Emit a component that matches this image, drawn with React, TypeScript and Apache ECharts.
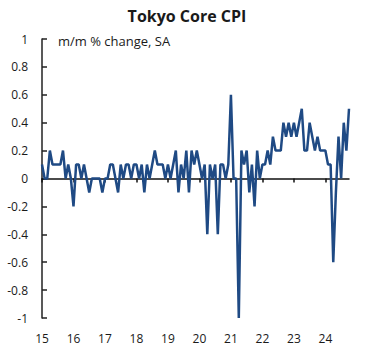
import React, { useEffect, useRef } from "react";
import * as echarts from "echarts";

const years = [2015, 2016, 2017, 2018, 2019, 2020, 2021, 2022, 2023, 2024];
const lastMonth2024 = 10;
const months = years.flatMap((y) =>
  Array.from({ length: y === 2024 ? lastMonth2024 : 12 }, (_, m) => `${y}-${String(m + 1).padStart(2, "0")}`)
);

const cpi2015 = [0.1, 0, 0, 0.2, 0.1, 0.1, 0.1, 0.1, 0.2, 0, 0.1, 0];
const cpi2016 = [-0.2, 0.1, 0.1, 0, 0.1, 0, -0.1, 0, 0, 0, 0, -0.1];
const cpi2017 = [0, 0, 0.1, 0.1, 0, -0.1, 0.1, 0, 0.1, 0.1, 0, 0.1];
const cpi2018 = [0.1, 0, 0.1, -0.1, 0.1, 0, 0.1, 0.2, 0.1, 0.1, 0.1, 0];
const cpi2019 = [0.1, 0, 0.1, 0.2, -0.1, 0.1, 0, 0.2, -0.1, 0.2, 0.1, 0.2];
const cpi2020 = [0.1, 0, 0.1, -0.4, 0.1, 0, 0.1, -0.4, 0.1, 0.1, 0, 0.1];
const cpi2021 = [0.6, 0, 0, -1.0, 0.2, 0.1, 0.2, -0.1, 0.1, -0.2, 0.2, 0];
const cpi2022 = [0.1, 0.1, 0.2, 0.1, 0.3, 0.2, 0.2, 0.2, 0.4, 0.3, 0.4, 0.3];
const cpi2023 = [0.4, 0.3, 0.4, 0.5, 0.2, 0.2, 0.4, 0.3, 0.2, 0.3, 0.2, 0.2];
const cpi2024 = [0.2, 0.1, 0.1, -0.6, -0.1, 0.3, 0, 0.4, 0.2, 0.5];

const cpi = [
  ...cpi2015, ...cpi2016, ...cpi2017, ...cpi2018, ...cpi2019,
  ...cpi2020, ...cpi2021, ...cpi2022, ...cpi2023, ...cpi2024,
];

const FONT = "'Open Sans', sans-serif";
const TEXT = "#1a1a1a";

export default function App() {
  const ref = useRef<HTMLDivElement>(null);
  useEffect(() => {
    document.body.style.margin = "0";
    const chart = echarts.init(ref.current!, null, { renderer: "svg" });
    const isJan = (i: number) => months[i] && months[i].endsWith("-01");
    chart.setOption({
      animation: false,
      textStyle: { fontFamily: FONT },
      title: {
        text: "Tokyo Core CPI",
        left: "center",
        top: 3,
        textStyle: { fontFamily: FONT, fontSize: 16, fontWeight: "bold", color: TEXT },
      },
      graphic: [
        {
          type: "text",
          left: 58,
          top: 34,
          style: { text: "m/m % change, SA", font: `13px ${FONT}`, fill: TEXT },
        },
      ],
      grid: { left: 42, right: 25, top: 39, bottom: 29, containLabel: false },
      xAxis: [
        {
          type: "category",
          data: months,
          boundaryGap: false,
          position: "bottom",
          axisLine: { show: true, onZero: true, lineStyle: { color: "#111", width: 1.5 } },
          axisTick: {
            show: true,
            inside: false,
            length: 4,
            interval: (i: number) => isJan(i),
            lineStyle: { color: "#111", width: 1.5 },
          },
          axisLabel: { show: false },
          splitLine: { show: false },
        },
        {
          type: "category",
          data: months,
          boundaryGap: false,
          position: "bottom",
          axisLine: { show: false, onZero: false },
          axisTick: { show: false },
          axisLabel: {
            show: true,
            margin: 14,
            fontSize: 12,
            color: TEXT,
            fontFamily: FONT,
            interval: (i: number) => isJan(i),
            formatter: (v: string) => v.slice(2, 4),
          },
          splitLine: { show: false },
        },
      ],
      yAxis: {
        type: "value",
        min: -1,
        max: 1,
        interval: 0.2,
        axisLine: { show: true, lineStyle: { color: "#222", width: 1.5 } },
        axisTick: { show: true, inside: true, length: 5, lineStyle: { color: "#222", width: 1.5 } },
        axisLabel: {
          margin: 14,
          fontSize: 12,
          color: TEXT,
          fontFamily: FONT,
          formatter: (v: number) => String(Math.round(v * 10) / 10),
        },
        splitLine: { show: false },
      },
      series: [
        {
          type: "line",
          xAxisIndex: 0,
          data: cpi,
          symbol: "none",
          lineStyle: { color: "#1F4A84", width: 2.5 },
          itemStyle: { color: "#1F4A84" },
        },
      ],
    });
    return () => chart.dispose();
  }, []);
  return <div ref={ref} style={{ width: 374, height: 347 }} />;
}
